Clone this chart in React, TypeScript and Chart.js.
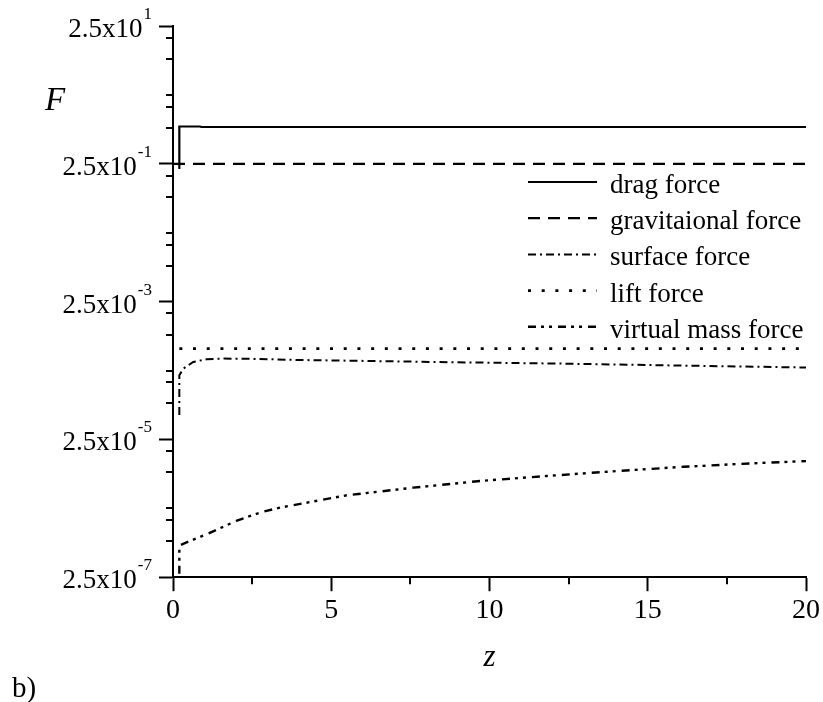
import React, { useEffect, useRef } from 'react';
import { Chart, registerables } from 'chart.js';
Chart.register(...registerables);

// ---- data ----
const zDrag = [0.2, 0.2, 0.85, 0.9, 20];
const fDrag = [0.21, 0.87, 0.87, 0.855, 0.855];

const zGrav = [0, 20];
const fGrav = [0.25, 0.25];

const zSurf = [0.2, 0.2, 0.33, 0.64, 1.06, 1.6, 2.4, 4.0, 5.6, 8.75, 12.2, 16, 20];
const fSurf = [5.65e-5, 2.13e-4, 2.67e-4, 3.33e-4, 3.64e-4, 3.72e-4, 3.7e-4, 3.55e-4, 3.47e-4, 3.3e-4, 3.15e-4, 2.95e-4, 2.76e-4];

const zLift = [0.2, 20];
const fLift = [5.2e-4, 5.2e-4];

const zVirt = [0.2, 0.2, 0.43, 1.06, 2.0, 2.75, 3.38, 5.49, 7.59, 9.7, 11.81, 14.02, 16.12, 18.23, 20];
const fVirt = [2.8e-7, 7.2e-7, 8.0e-7, 1.05e-6, 1.64e-6, 2.17e-6, 2.56e-6, 3.86e-6, 4.98e-6, 6.22e-6, 7.36e-6, 8.68e-6, 1.0e-5, 1.12e-5, 1.21e-5];

const seriesLabels = ['drag force', 'gravitaional force', 'surface force', 'lift force', 'virtual mass force'];

const xMajorTicks = [0, 5, 10, 15, 20];
const xMinorTicks = [2.5, 7.5, 12.5, 17.5];
const yMajorTicks = [2.5e1, 2.5e-1, 2.5e-3, 2.5e-5, 2.5e-7];
const yMajorMantissa = ['2.5x10', '2.5x10', '2.5x10', '2.5x10', '2.5x10'];
const yMajorExponent = ['1', '-1', '-3', '-5', '-7'];
const yMinorTicks = [
  16.8, 8.3, 2.5, 1.68, 0.83,
  0.168, 0.083, 0.025, 0.0168, 0.0083,
  1.68e-3, 8.3e-4, 2.5e-4, 1.68e-4, 8.3e-5,
  1.68e-5, 8.3e-6, 2.5e-6, 1.68e-6, 8.3e-7,
];
const xTitle = 'z';
const yTitle = 'F';
const panelLabel = 'b)';

const FONT = '"Liberation Serif", "Times New Roman", serif';

const toPts = (xs: number[], ys: number[]) => xs.map((x, i) => ({ x, y: ys[i] }));

const decorPlugin = {
  id: 'decor',
  afterDraw(chart: any) {
    const ctx = chart.ctx;
    const xs = chart.scales.x;
    const ys = chart.scales.y;
    const area = chart.chartArea;
    ctx.save();
    ctx.strokeStyle = '#000';
    ctx.fillStyle = '#000';
    ctx.lineWidth = 2;
    ctx.setLineDash([]);
    // minor ticks
    xMinorTicks.forEach((v) => {
      const px = Math.round(xs.getPixelForValue(v));
      ctx.beginPath();
      ctx.moveTo(px, area.bottom);
      ctx.lineTo(px, area.bottom + 7);
      ctx.stroke();
    });
    yMinorTicks.forEach((v) => {
      const py = Math.round(ys.getPixelForValue(v));
      ctx.beginPath();
      ctx.moveTo(area.left, py);
      ctx.lineTo(area.left - 7, py);
      ctx.stroke();
    });
    // y tick labels with superscripts
    const rightEdge = area.left - 21;
    yMajorTicks.forEach((v, i) => {
      const py = ys.getPixelForValue(v);
      ctx.font = `17px ${FONT}`;
      const supW = ctx.measureText(yMajorExponent[i]).width;
      ctx.textAlign = 'left';
      ctx.textBaseline = 'alphabetic';
      ctx.fillText(yMajorExponent[i], rightEdge - supW, py - 7);
      ctx.font = `27px ${FONT}`;
      ctx.textAlign = 'right';
      ctx.fillText(yMajorMantissa[i], rightEdge - supW - 1, py + 11);
    });
    // y title
    ctx.font = `italic 33px ${FONT}`;
    ctx.textAlign = 'left';
    ctx.textBaseline = 'alphabetic';
    ctx.fillText(yTitle, 45, 110);
    // panel label
    ctx.font = `29px ${FONT}`;
    ctx.fillText(panelLabel, 12, 697);
    // legend
    const x0 = 528, x1 = 597, tx = 610, y0 = 182, dy = 36.2;
    chart.data.datasets.forEach((ds: any, i: number) => {
      const y = y0 + i * dy;
      ctx.lineWidth = ds.borderWidth;
      ctx.setLineDash(ds.borderDash || []);
      ctx.beginPath();
      ctx.moveTo(x0, y);
      ctx.lineTo(x1, y);
      ctx.stroke();
      ctx.setLineDash([]);
      ctx.font = `27px ${FONT}`;
      ctx.textAlign = 'left';
      ctx.textBaseline = 'alphabetic';
      ctx.fillText(ds.label, tx, y + 11);
    });
    ctx.restore();
  },
};

export default function App() {
  const ref = useRef<HTMLCanvasElement | null>(null);
  useEffect(() => {
    if (!ref.current) return;
    const common = { pointRadius: 0, borderColor: '#000', backgroundColor: '#000', fill: false, tension: 0 };
    const chart = new Chart(ref.current, {
      type: 'line',
      data: {
        datasets: [
          { ...common, label: seriesLabels[0], data: toPts(zDrag, fDrag), borderWidth: 2.2, borderDash: [] },
          { ...common, label: seriesLabels[1], data: toPts(zGrav, fGrav), borderWidth: 2.2, borderDash: [12, 8] },
          { ...common, label: seriesLabels[2], data: toPts(zSurf, fSurf), borderWidth: 2, borderDash: [8, 4, 2, 4] },
          { ...common, label: seriesLabels[3], data: toPts(zLift, fLift), borderWidth: 2.6, borderDash: [3, 10.7] },
          { ...common, label: seriesLabels[4], data: toPts(zVirt, fVirt), borderWidth: 2.4, borderDash: [8, 5, 3, 5, 3, 6] },
        ],
      } as any,
      options: {
        animation: false,
        responsive: false,
        maintainAspectRatio: false,
        layout: { padding: { left: 159, right: 17, top: 26, bottom: 0 } },
        plugins: { legend: { display: false }, tooltip: { enabled: false } },
        scales: {
          x: {
            type: 'linear',
            min: 0,
            max: 20,
            afterBuildTicks: (s: any) => {
              s.ticks = xMajorTicks.map((v) => ({ value: v }));
            },
            ticks: {
              autoSkip: false,
              maxRotation: 0,
              padding: 3,
              color: '#000',
              font: { family: FONT, size: 28 },
              callback: (v: any) => String(v),
            },
            grid: { display: true, drawOnChartArea: false, drawTicks: true, tickLength: 14, tickWidth: 2, tickColor: '#000' },
            border: { display: true, color: '#000', width: 2 },
            title: {
              display: true,
              text: xTitle,
              color: '#000',
              font: { family: FONT, size: 31, style: 'italic' },
              padding: { top: 8, bottom: 26 },
            },
          },
          y: {
            type: 'logarithmic',
            min: 2.5e-7,
            max: 25,
            afterBuildTicks: (s: any) => {
              s.ticks = yMajorTicks.map((v) => ({ value: v }));
            },
            ticks: { display: false },
            grid: { display: true, drawOnChartArea: false, drawTicks: true, tickLength: 14, tickWidth: 2, tickColor: '#000' },
            border: { display: true, color: '#000', width: 2 },
          },
        },
      } as any,
      plugins: [decorPlugin],
    });
    return () => chart.destroy();
  }, []);
  return (
    <div style={{ position: 'fixed', left: 0, top: 0, width: 823, height: 702, background: '#fff' }}>
      <canvas ref={ref} width={823} height={702} />
    </div>
  );
}
